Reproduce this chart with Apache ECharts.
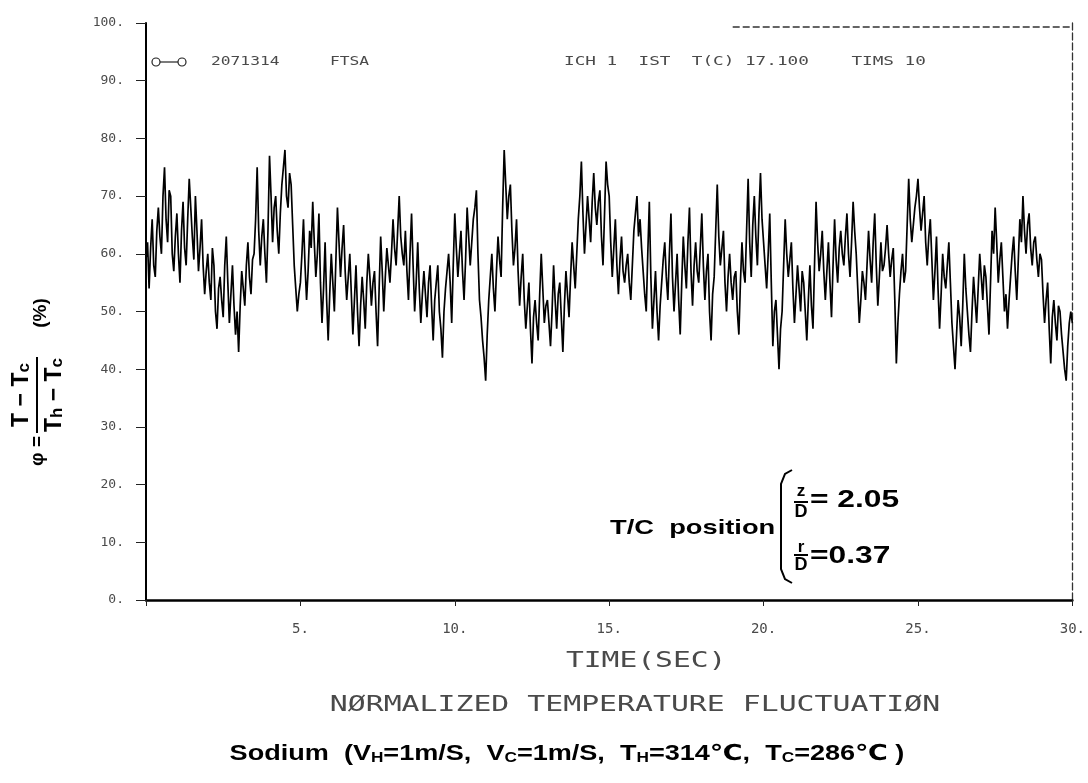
<!DOCTYPE html>
<html>
<head>
<meta charset="utf-8">
<title>Normalized temperature fluctuation</title>
<script src="https://cdn.jsdelivr.net/npm/echarts@6/dist/echarts.min.js"></script>
<style>
html, body { margin: 0; padding: 0; background: #fff; }
#chart { width: 1088px; height: 783px; }
</style>
</head>
<body>
<div id="chart"></div>
<script>
// readings every 0.05 s, phi in %
const sampleStep = 0.05;
const phi0to5 = [
	59, 62, 54, 61, 66, 58, 56, 64, 68, 63, 60, 70, 75, 66, 62, 71, 70, 60, 57, 63,
	67, 60, 55, 64, 69, 61, 58, 66, 73, 68, 63, 59, 70, 64, 57, 61, 66, 58, 53, 57,
	60, 55, 52, 61, 58, 50, 47, 54, 56, 52, 49, 58, 63, 55, 48, 53, 58, 51, 46, 50,
	43, 51, 57, 54, 51, 58, 62, 56, 53, 59, 60, 66, 75, 64, 58, 63, 66, 60, 55, 64,
	77, 70, 62, 68, 70, 64, 60, 67, 72, 75, 78, 70, 68, 74, 72, 65, 58, 54, 50, 53
];
const phi5to10 = [
	55, 60, 66, 58, 52, 57, 64, 61, 69, 62, 56, 60, 67, 55, 48, 54, 62, 52, 45, 53,
	60, 55, 50, 59, 68, 62, 56, 61, 65, 57, 52, 56, 60, 53, 46, 52, 58, 50, 44, 51,
	56, 52, 47, 55, 60, 56, 51, 55, 57, 50, 44, 54, 63, 57, 50, 56, 61, 58, 55, 60,
	66, 61, 58, 64, 70, 63, 60, 58, 64, 57, 52, 60, 67, 58, 50, 55, 62, 54, 48, 53,
	57, 53, 49, 55, 58, 51, 45, 52, 55, 58, 50, 47, 42, 50, 54, 57, 60, 55, 48, 58
];
const phi10to15 = [
	67, 61, 56, 60, 64, 57, 52, 59, 68, 63, 58, 62, 66, 68, 71, 60, 52, 49, 45, 42,
	38, 46, 52, 56, 60, 54, 50, 57, 63, 59, 56, 68, 78, 72, 66, 70, 72, 64, 58, 61,
	66, 57, 51, 56, 60, 52, 47, 51, 55, 47, 41, 49, 52, 48, 45, 53, 60, 54, 48, 51,
	52, 48, 44, 50, 58, 52, 47, 53, 55, 49, 43, 51, 57, 53, 49, 56, 62, 58, 54, 60,
	66, 70, 76, 67, 60, 65, 70, 66, 62, 69, 74, 68, 65, 69, 71, 63, 58, 67, 76, 72
];
const phi15to20 = [
	70, 62, 56, 61, 66, 58, 53, 59, 63, 57, 55, 58, 60, 55, 52, 58, 64, 67, 70, 63,
	66, 61, 57, 53, 50, 60, 69, 56, 47, 52, 57, 50, 45, 51, 55, 59, 62, 56, 52, 60,
	67, 56, 50, 55, 60, 52, 46, 55, 63, 58, 54, 62, 68, 57, 51, 58, 62, 57, 55, 61,
	67, 58, 52, 57, 60, 50, 45, 53, 56, 64, 72, 63, 58, 61, 64, 55, 50, 56, 60, 55,
	52, 56, 57, 50, 46, 55, 62, 57, 55, 64, 73, 62, 56, 65, 70, 63, 58, 67, 74, 66
];
const phi20to25 = [
	62, 58, 54, 60, 67, 55, 44, 50, 52, 46, 40, 47, 50, 58, 66, 60, 56, 59, 62, 54,
	48, 53, 58, 54, 50, 57, 55, 50, 45, 52, 58, 51, 47, 58, 69, 62, 57, 60, 64, 57,
	52, 57, 62, 55, 49, 58, 66, 59, 55, 61, 64, 60, 58, 63, 67, 60, 56, 62, 69, 64,
	60, 54, 48, 52, 57, 55, 52, 58, 64, 59, 55, 62, 67, 58, 51, 56, 62, 57, 58, 61,
	65, 60, 56, 59, 61, 52, 41, 48, 53, 57, 60, 55, 57, 65, 73, 66, 62, 65, 68, 70
];
const phi25to30 = [
	73, 68, 64, 67, 70, 62, 58, 63, 66, 59, 52, 57, 63, 54, 47, 53, 60, 56, 54, 58,
	62, 55, 48, 44, 40, 46, 52, 49, 44, 51, 60, 54, 50, 46, 43, 50, 56, 52, 48, 54,
	60, 56, 52, 58, 56, 51, 46, 55, 64, 60, 68, 62, 55, 59, 62, 56, 50, 53, 47, 52,
	56, 60, 63, 57, 52, 59, 66, 62, 70, 64, 60, 65, 67, 61, 58, 62, 63, 59, 56, 60,
	59, 53, 48, 52, 55, 47, 41, 49, 52, 48, 45, 51, 50, 46, 43, 40, 38, 44, 48, 50, 48
];
const xTickLabels = ['', '5.', '10.', '15.', '20.', '25.', '30.'];
const yTickLabels = ['0.', '10.', '20.', '30.', '40.', '50.', '60.', '70.', '80.', '90.', '100.'];

const phi = [].concat(phi0to5, phi5to10, phi10to15, phi15to20, phi20to25, phi25to30);
const seriesData = phi.map((v, i) => [+(i * sampleStep).toFixed(2), v]);

const mono = '"DejaVu Sans Mono", monospace';
const bold = '"Liberation Sans", "DejaVu Sans", sans-serif';
const plotterGray = '#4a4a4a';

const chart = echarts.init(document.getElementById('chart'));

const option = {
	backgroundColor: '#fff',
	animation: false,
	grid: { left: 146, right: 14, top: 23, bottom: 183 },
	xAxis: {
		type: 'value',
		min: 0,
		max: 30,
		interval: 5,
		axisLine: { lineStyle: { color: '#000', width: 2.5 } },
		axisTick: { length: 6, lineStyle: { color: '#222', width: 1 } },
		axisLabel: {
			fontFamily: mono, fontSize: 14, color: plotterGray, margin: 22,
			formatter: v => xTickLabels[Math.round(v / 5)]
		},
		splitLine: { show: false }
	},
	yAxis: [{
		type: 'value',
		min: 0,
		max: 100,
		interval: 10,
		axisLine: { show: true, lineStyle: { color: '#000', width: 2 } },
		axisTick: { length: 10, lineStyle: { color: '#222', width: 1 } },
		axisLabel: {
			fontFamily: mono, fontSize: 13, color: plotterGray, margin: 22,
			formatter: v => yTickLabels[Math.round(v / 10)]
		},
		splitLine: { show: false }
	}, {
		type: 'value',
		min: 0,
		max: 100,
		interval: 10,
		position: 'right',
		axisLine: { show: true, lineStyle: { color: '#333', width: 1.3, type: [7, 3] } },
		axisTick: { show: false },
		axisLabel: { show: false },
		splitLine: { show: false }
	}],
	series: [{
		name: '2071314',
		type: 'line',
		data: seriesData,
		showSymbol: false,
		lineStyle: { color: '#000', width: 1.7 }
	}]
};

chart.setOption(option);

// frame piece on top, from the chart's own scales
const topStart = chart.convertToPixel({ gridIndex: 0 }, [19, 100]);
const topEnd = chart.convertToPixel({ gridIndex: 0 }, [30, 100]);
const xMid = chart.convertToPixel({ gridIndex: 0 }, [15, 0]);

const fracRich = {
	a: { font: 'bold 23px ' + bold, fill: '#000', lineHeight: 26, verticalAlign: 'bottom' },
	s: { font: 'bold 17px ' + bold, fill: '#000', lineHeight: 20, verticalAlign: 'bottom' }
};

chart.setOption({
	graphic: [
		{
			type: 'line',
			shape: { x1: topStart[0], y1: topStart[1] + 4, x2: topEnd[0], y2: topEnd[1] + 4 },
			style: { stroke: '#333', lineWidth: 1.3, lineDash: [7, 3] }
		},
		// legend mark and plotter header
		{ type: 'circle', shape: { cx: 156, cy: 62, r: 4 }, style: { fill: 'none', stroke: '#222', lineWidth: 1.2 } },
		{ type: 'line', shape: { x1: 160, y1: 62, x2: 178, y2: 62 }, style: { stroke: '#222', lineWidth: 1.2 } },
		{ type: 'circle', shape: { cx: 182, cy: 62, r: 4 }, style: { fill: 'none', stroke: '#222', lineWidth: 1.2 } },
		{
			type: 'text', x: 211, y: 62, scaleX: 1.25,
			style: { text: '2071314', font: '13px ' + mono, fill: plotterGray, verticalAlign: 'middle' }
		},
		{
			type: 'text', x: 330, y: 62, scaleX: 1.25,
			style: { text: 'FTSA', font: '13px ' + mono, fill: plotterGray, verticalAlign: 'middle' }
		},
		{
			type: 'text', x: 564, y: 62, scaleX: 1.36,
			style: { text: 'ICH 1  IST  T(C) 17.100    TIMS 10', font: '13px ' + mono, fill: plotterGray, verticalAlign: 'middle' }
		},
		// y-axis title, rotated
		{
			type: 'group', x: 37, y: 395, rotation: Math.PI / 2,
			children: [
				{
					type: 'text', x: -41, y: 1,
					style: { text: 'φ =', font: 'bold 19px ' + bold, fill: '#000', align: 'right', verticalAlign: 'middle' }
				},
				{ type: 'line', shape: { x1: -38, y1: 0, x2: 38, y2: 0 }, style: { stroke: '#000', lineWidth: 2 } },
				{
					type: 'text', x: 0, y: -17,
					style: { text: '{a|T − T}{s|c}', align: 'center', verticalAlign: 'middle', rich: fracRich }
				},
				{
					type: 'text', x: 0, y: 16,
					style: { text: '{a|T}{s|h}{a| − T}{s|c}', align: 'center', verticalAlign: 'middle', rich: fracRich }
				},
				{
					type: 'text', x: 82, y: 4,
					style: { text: '(%)', font: 'bold 19px ' + bold, fill: '#000', align: 'center', verticalAlign: 'middle' }
				}
			]
		},
		// thermocouple position note
		{
			type: 'text', x: 610, y: 528, scaleX: 1.3,
			style: { text: 'T/C  position', font: 'bold 21px ' + bold, fill: '#000', verticalAlign: 'middle' }
		},
		{
			type: 'polyline',
			shape: { points: [[792, 470], [785, 474], [781, 484], [781, 569], [785, 579], [792, 583]] },
			style: { stroke: '#000', lineWidth: 2, fill: 'none' }
		},
		{ type: 'text', x: 801, y: 491, style: { text: 'z', font: 'bold 17px ' + bold, fill: '#000', align: 'center', verticalAlign: 'middle' } },
		{ type: 'line', shape: { x1: 794, y1: 502, x2: 808, y2: 502 }, style: { stroke: '#000', lineWidth: 2 } },
		{ type: 'text', x: 801, y: 512, style: { text: 'D', font: 'bold 18px ' + bold, fill: '#000', align: 'center', verticalAlign: 'middle' } },
		{ type: 'text', x: 810, y: 501, scaleX: 1.38, style: { text: '= 2.05', font: 'bold 23px ' + bold, fill: '#000', verticalAlign: 'middle' } },
		{ type: 'text', x: 801, y: 547, style: { text: 'r', font: 'bold 17px ' + bold, fill: '#000', align: 'center', verticalAlign: 'middle' } },
		{ type: 'line', shape: { x1: 794, y1: 555, x2: 808, y2: 555 }, style: { stroke: '#000', lineWidth: 2 } },
		{ type: 'text', x: 801, y: 565, style: { text: 'D', font: 'bold 18px ' + bold, fill: '#000', align: 'center', verticalAlign: 'middle' } },
		{ type: 'text', x: 810, y: 557, scaleX: 1.38, style: { text: '=0.37', font: 'bold 23px ' + bold, fill: '#000', verticalAlign: 'middle' } },
		// captions under the chart
		{
			type: 'text', x: xMid[0] + 37, y: 662, scaleX: 1.41,
			style: { text: 'TIME(SEC)', font: '21px ' + mono, fill: plotterGray, align: 'center', verticalAlign: 'middle' }
		},
		{
			type: 'text', x: 635, y: 706, scaleX: 1.42,
			style: { text: 'NØRMALIZED TEMPERATURE FLUCTUATIØN', font: '21px ' + mono, fill: plotterGray, align: 'center', verticalAlign: 'middle' }
		},
		{
			type: 'text', x: 567, y: 752, scaleX: 1.23,
			style: {
				text: '{b|Sodium  (V}{s|H}{b|=1m/S,  V}{s|C}{b|=1m/S,  T}{s|H}{b|=314℃,  T}{s|C}{b|=286℃ )}',
				align: 'center', verticalAlign: 'middle',
				rich: {
					b: { font: 'bold 22px ' + bold, fill: '#000', lineHeight: 26, verticalAlign: 'bottom' },
					s: { font: 'bold 14px ' + bold, fill: '#000', lineHeight: 12, verticalAlign: 'bottom' }
				}
			}
		}
	]
});
</script>
</body>
</html>
